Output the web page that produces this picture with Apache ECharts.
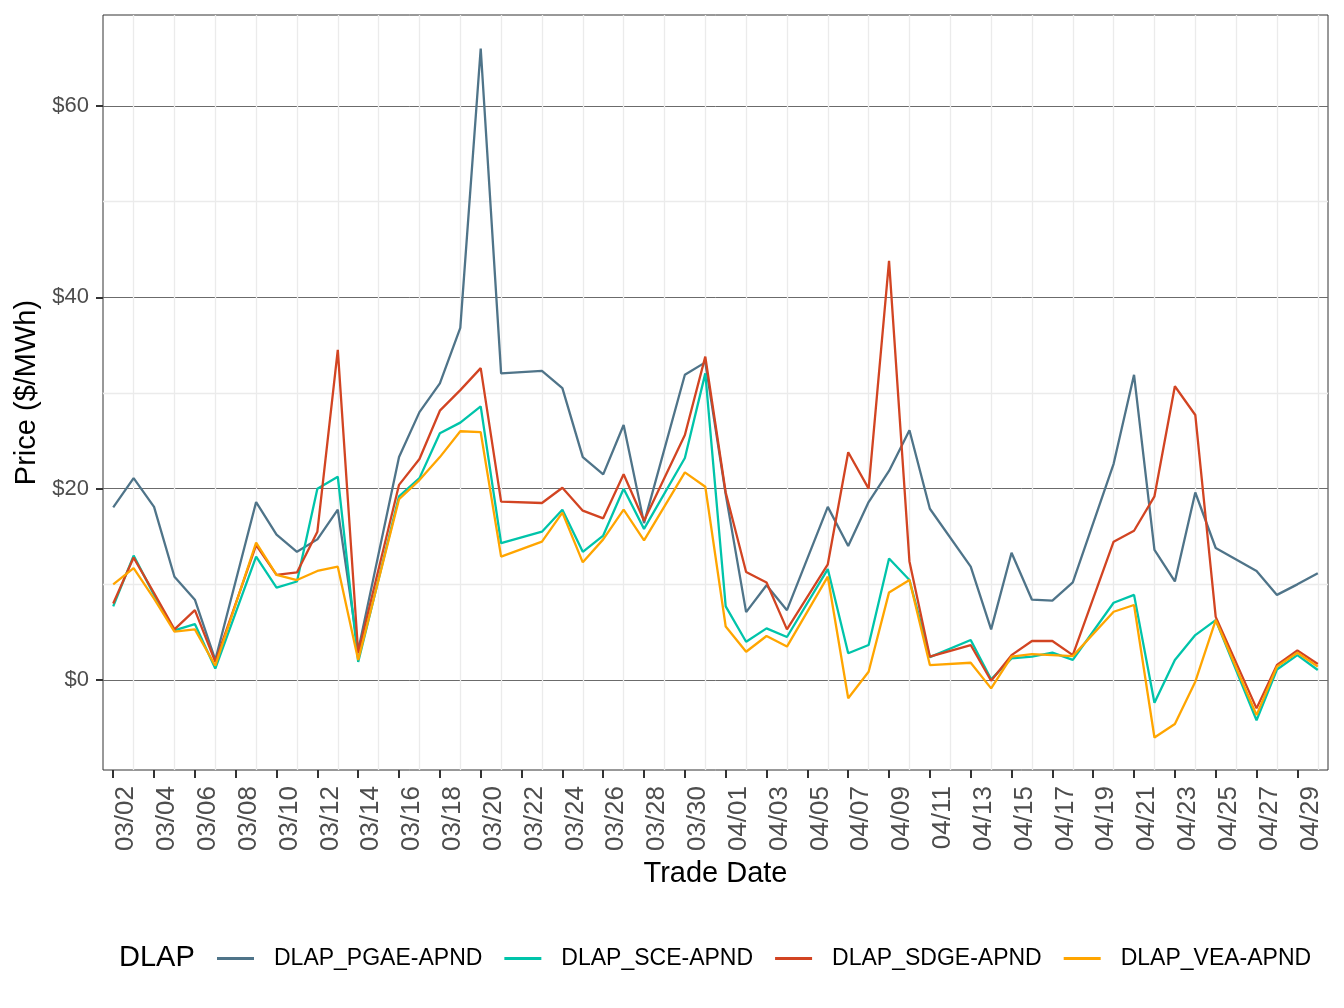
<!DOCTYPE html>
<html>
<head>
<meta charset="utf-8">
<title>DLAP prices</title>
<script src="https://cdn.jsdelivr.net/npm/echarts@6.0.0/dist/echarts.min.js"></script>
<style>
  html, body { margin: 0; padding: 0; background: #fff; }
  #lineChart { width: 1344px; height: 1008px; }
</style>
</head>
<body>
<div id="lineChart"></div>
<script>
  // trade dates, 03/02 .. 04/30 (no data on the weekly gaps -> null)
  const dates = [
    "03/02","03/03","03/04","03/05","03/06","03/07","03/08","03/09","03/10","03/11",
    "03/12","03/13","03/14","03/15","03/16","03/17","03/18","03/19","03/20","03/21",
    "03/22","03/23","03/24","03/25","03/26","03/27","03/28","03/29","03/30","03/31",
    "04/01","04/02","04/03","04/04","04/05","04/06","04/07","04/08","04/09","04/10",
    "04/11","04/12","04/13","04/14","04/15","04/16","04/17","04/18","04/19","04/20",
    "04/21","04/22","04/23","04/24","04/25","04/26","04/27","04/28","04/29","04/30"
  ];

  const pgae = [18.05, 21.1, 18.1, 10.8, 8.4, 2.1, null, 18.6, 15.2, 13.4,
    14.7, 17.8, 3.1, null, 23.3, 28.0, 31.0, 36.8, 66.0, 32.05,
    null, 32.3, 30.5, 23.3, 21.5, 26.65, 16.4, null, 31.9, 33.2,
    19.4, 7.1, 9.9, 7.3, null, 18.1, 14.0, 18.6, 21.85, 26.1,
    17.9, null, 11.85, 5.3, 13.3, 8.4, 8.3, 10.2, null, 22.6,
    31.9, 13.6, 10.3, 19.6, 13.8, null, 11.4, 8.9, 10.0, 11.15];

  const sce = [7.7, 13.0, 8.9, 5.2, 5.85, 1.2, null, 12.9, 9.65, 10.3,
    20.0, 21.25, 1.9, null, 19.2, 21.1, 25.8, 26.9, 28.6, 14.3,
    null, 15.5, 17.8, 13.4, 15.1, 20.0, 15.8, null, 23.2, 32.05,
    7.7, 4.0, 5.4, 4.5, null, 11.6, 2.8, 3.66, 12.7, 10.45,
    2.4, null, 4.18, 0.07, 2.26, 2.44, 2.86, 2.1, null, 8.08,
    8.9, -2.37, 2.1, 4.7, 6.27, null, -4.2, 1.1, 2.6, 1.05];

  const sdge = [8.0, 12.8, 9.1, 5.3, 7.3, 1.9, null, 14.1, 11.0, 11.25,
    15.5, 34.5, 2.8, null, 20.4, 23.1, 28.15, 30.3, 32.6, 18.65,
    null, 18.5, 20.1, 17.7, 16.9, 21.5, 16.65, null, 25.6, 33.8,
    19.6, 11.3, 10.2, 5.3, null, 12.1, 23.8, 20.0, 43.8, 12.4,
    2.44, null, 3.66, -0.07, 2.6, 4.08, 4.08, 2.6, null, 14.46,
    15.6, 19.2, 30.7, 27.7, 6.6, null, -2.96, 1.57, 3.1, 1.67];

  const vea = [10.0, 11.7, 8.5, 5.05, 5.3, 1.5, null, 14.35, 11.0, 10.45,
    11.4, 11.85, 2.1, null, 18.9, 20.9, 23.3, 26.0, 25.9, 12.9,
    null, 14.46, 17.5, 12.3, 14.7, 17.8, 14.6, null, 21.7, 20.2,
    5.6, 2.96, 4.6, 3.5, null, 10.8, -1.9, 0.87, 9.16, 10.45,
    1.57, null, 1.81, -0.87, 2.44, 2.7, 2.6, 2.5, null, 7.14,
    7.84, -6.0, -4.6, -0.17, 6.27, null, -3.66, 1.4, 2.86, 1.4];

  const seriesNames = ["DLAP_PGAE-APND", "DLAP_SCE-APND", "DLAP_SDGE-APND", "DLAP_VEA-APND"];
  const seriesData = [pgae, sce, sdge, vea];
  const colors = ["#4f7489", "#00c4aa", "#d24422", "#ffa500"];

  const majorTicks = [0, 20, 40, 60];
  const minorTicks = [10, 30, 50];

  const font = "'Liberation Sans', Arial, Helvetica, sans-serif";

  const options = {
    animation: false,
    textStyle: { fontFamily: font },
    title: {
      text: "DLAP",
      left: 119,
      top: 943,
      padding: 0,
      textStyle: { fontSize: 29, fontWeight: "normal", color: "#000", fontFamily: font },
    },
    legend: {
      data: seriesNames,
      left: 217,
      top: 947,
      padding: 0,
      icon: "rect",
      itemWidth: 37,
      itemHeight: 3,
      itemGap: 22,
      selectedMode: false,
      textStyle: { fontSize: 23, color: "#000", fontFamily: font, padding: [0, 0, 0, 15] },
    },
    grid: {
      left: 103,
      right: 16,
      top: 15,
      bottom: 238,
      show: true,
      borderColor: "#333333",
      borderWidth: 1,
      outerBoundsMode: "none",
    },
    xAxis: [
      {
        type: "category",
        data: dates,
        boundaryGap: true,
        axisLine: { show: false, onZero: false },
        axisTick: {
          show: true,
          alignWithLabel: true,
          interval: 1,
          length: 8,
          lineStyle: { color: "#333333", width: 2 },
        },
        axisLabel: {
          interval: 1,
          rotate: 90,
          margin: 16,
          fontSize: 26,
          color: "#4d4d4d",
          fontFamily: font,
          verticalAlign: "top",
        },
        splitLine: {
          show: true,
          alignWithLabel: true,
          interval: (i) => i % 2 === 1,
          lineStyle: { color: "#ebebeb", width: 1.3 },
        },
        name: "Trade Date",
        nameLocation: "middle",
        nameGap: 89,
        nameMoveOverlap: false,
        nameTextStyle: { fontSize: 29, color: "#000", fontFamily: font },
      },
    ],
    yAxis: [
      {
        type: "value",
        min: -9.4,
        max: 69.5,
        splitNumber: 4,
        axisLine: { show: false },
        axisTick: {
          show: true,
          customValues: majorTicks,
          length: 7,
          lineStyle: { color: "#333333", width: 2 },
        },
        axisLabel: {
          customValues: majorTicks,
          formatter: (v) => "$" + v,
          fontSize: 22,
          color: "#4d4d4d",
          fontFamily: font,
          margin: 14,
        },
        splitLine: { show: true, lineStyle: { color: "#6b6b6b", width: 1 } },
        name: "Price ($/MWh)",
        nameLocation: "middle",
        nameGap: 62,
        nameMoveOverlap: false,
        nameTextStyle: { fontSize: 29, color: "#000", fontFamily: font },
      },
      {
        type: "value",
        min: -9.4,
        max: 69.5,
        position: "left",
        axisLine: { show: false },
        axisTick: { show: false, customValues: minorTicks },
        axisLabel: { show: false, customValues: minorTicks },
        splitLine: { show: true, lineStyle: { color: "#ebebeb", width: 1.3 } },
      },
    ],
    series: seriesNames.map((name, k) => ({
      name: name,
      type: "line",
      data: seriesData[k],
      yAxisIndex: 0,
      connectNulls: true,
      showSymbol: false,
      symbol: "none",
      color: colors[k],
      lineStyle: { color: colors[k], width: 2.3 },
      emphasis: { disabled: true },
    })),
  };

  let dom = document.getElementById("lineChart");
  let myChart = echarts.init(dom);
  myChart.setOption(options);
  window.addEventListener("resize", () => myChart.resize(), false);
</script>
</body>
</html>
